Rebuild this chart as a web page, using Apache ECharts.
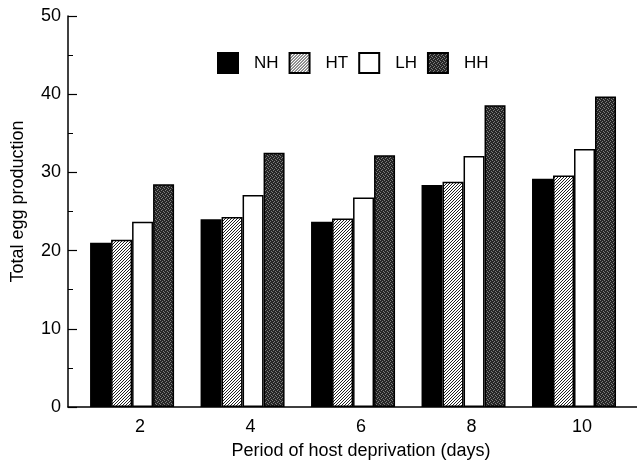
<!DOCTYPE html>
<html>
<head>
<meta charset="utf-8">
<script src="https://cdn.jsdelivr.net/npm/echarts@6/dist/echarts.min.js"></script>
<style>
  html, body { margin: 0; padding: 0; background: #fff; }
  #main { width: 637px; height: 466px; }
</style>
</head>
<body>
<div id="main"></div>
<script>
var chartDom = document.getElementById('main');
var myChart = echarts.init(chartDom);
var option;

// period of host deprivation (days)
const days = [2, 4, 6, 8, 10];
const groups = ['NH', 'HT', 'LH', 'HH'];

const nhValues = [21.0, 24.0, 23.7, 28.4, 29.2];
const htValues = [21.4, 24.3, 24.1, 28.8, 29.6];
const lhValues = [23.7, 27.1, 26.8, 32.1, 33.0];
const hhValues = [28.5, 32.5, 32.2, 38.6, 39.7];

const FONT = '"Liberation Sans", Arial, sans-serif';

// small canvas patterns for the hatched / stippled bars
function makePattern(size, bg, fg, cells) {
  const c = document.createElement('canvas');
  c.width = size;
  c.height = size;
  const ctx = c.getContext('2d');
  ctx.fillStyle = bg;
  ctx.fillRect(0, 0, size, size);
  ctx.fillStyle = fg;
  cells.forEach(p => ctx.fillRect(p[0], p[1], 1, 1));
  return c;
}

const hatch = makePattern(3, '#ffffff', '#222222', [[2, 0], [1, 1], [0, 2]]);
const stipple = makePattern(4, '#262626', '#7c7c7c', [[0, 0], [2, 1], [1, 2], [3, 3]]);

const fills = [
  '#000000',
  { image: hatch, repeat: 'repeat' },
  '#ffffff',
  { image: stipple, repeat: 'repeat' }
];

const allValues = [nhValues, htValues, lhValues, hhValues];

function getSeries() {
  return groups.map((name, i) => {
    return {
      name: name,
      type: 'bar',
      barWidth: 21,
      barGap: '0%',
      data: days.map((d, j) => [d, allValues[i][j]]),
      itemStyle: {
        color: fills[i],
        borderColor: '#000',
        borderWidth: 1.5
      }
    };
  });
}

option = {
  animation: false,
  backgroundColor: '#fff',
  textStyle: { fontFamily: FONT },
  grid: {
    left: 68,
    right: 0,
    top: 16,
    bottom: 59
  },
  legend: {
    data: groups,
    top: 52,
    left: 217,
    padding: 0,
    itemWidth: 20,
    itemHeight: 20,
    itemGap: 10,
    icon: 'rect',
    textStyle: {
      fontFamily: FONT,
      fontSize: 17,
      color: '#000',
      padding: [0, 0, 0, 11]
    }
  },
  xAxis: {
    type: 'value',
    min: 0.84,
    max: 11.14,
    name: 'Period of host deprivation (days)',
    nameLocation: 'middle',
    nameGap: 35,
    nameTextStyle: { fontFamily: FONT, fontSize: 18, color: '#000', padding: [0, 0, 0, 17] },
    axisLine: { show: true, lineStyle: { color: '#000', width: 1.5 } },
    axisTick: { show: false },
    splitLine: { show: false },
    axisLabel: {
      customValues: days,
      fontFamily: FONT,
      fontSize: 18,
      color: '#000',
      margin: 11,
      padding: [0, 0, 0, 16]
    }
  },
  yAxis: {
    type: 'value',
    min: 0,
    max: 50,
    interval: 10,
    name: 'Total egg production',
    nameLocation: 'middle',
    nameGap: 41,
    nameTextStyle: { fontFamily: FONT, fontSize: 18, color: '#000', padding: [0, 0, 0, 20] },
    axisLine: { show: true, lineStyle: { color: '#000', width: 1.5 } },
    axisTick: { show: true, inside: true, length: 9, lineStyle: { color: '#000', width: 1.2 } },
    minorTick: { show: true, splitNumber: 2, length: 5, lineStyle: { color: '#000', width: 1 } },
    splitLine: { show: false },
    axisLabel: {
      fontFamily: FONT,
      fontSize: 18,
      color: '#000',
      margin: 7
    }
  },
  series: getSeries()
};

option && myChart.setOption(option);
</script>
</body>
</html>
